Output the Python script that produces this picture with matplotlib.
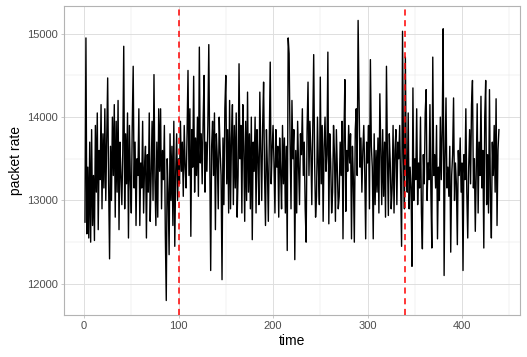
import numpy as np
import matplotlib
matplotlib.use("Agg")
import matplotlib.pyplot as plt
from matplotlib.ticker import MultipleLocator

# packet rate per time step
rate = [
    12740, 14950, 12600, 13400, 12550, 13700, 12500, 13850, 12700, 13300,
    12520, 13900, 13100, 14050, 12650, 13600, 13250, 14150, 12900, 13800,
    13150, 14100, 13000, 13750, 14470, 13200, 12300, 13650, 13000, 14000,
    13300, 14150, 12800, 13950, 13100, 14200, 12650, 13700, 13300, 12950,
    13600, 14850, 12900, 13800, 13200, 14050, 12550, 13900, 13250, 12850,
    13900, 14610, 13150, 13700, 12700, 13500, 13300, 14100, 12700, 13450,
    13150, 13950, 12850, 13400, 13650, 12550, 13550, 13100, 14050, 12750,
    13300, 13950, 13000, 14510, 13250, 12700, 13700, 12800, 14100, 13350,
    14100, 12900, 13600, 13250, 13900, 12600, 11800, 13500, 13100, 12350,
    13800, 13000, 13650, 12700, 13950, 12450, 13350, 13800, 13000, 13500,
    13200, 13950, 13350, 13700, 13050, 13900, 13400, 13150, 13800, 14560,
    13300, 14100, 12570, 13850, 13400, 14490, 13100, 13750, 13300, 14000,
    13050, 14840, 13450, 13800, 13200, 13950, 14500, 13100, 13700, 13350,
    13900, 14870, 13500, 12160, 13650, 13950, 13300, 14050, 12650, 13800,
    13500, 12900, 14000, 13600, 13300, 12050, 13750, 12950, 14100, 14500,
    13200, 13850, 12850, 14200, 12900, 13750, 14150, 12950, 13900, 13150,
    14050, 12800, 13300, 14640, 13500, 13900, 12850, 14150, 13650, 12750,
    13950, 13000, 14300, 13100, 13800, 12900, 14000, 12530, 13700, 13350,
    14000, 12850, 13850, 13500, 12950, 14300, 13600, 13000, 13900, 14420,
    13300, 12700, 13850, 13400, 12750, 13700, 14660, 13200, 13600, 13900,
    13450, 12850, 13850, 13400, 13650, 12800, 13750, 13350, 12900, 13900,
    13200, 13750, 12850, 13650, 12400, 14950, 14760, 13700, 12900, 14200,
    13500, 13850, 12290, 13600, 12850, 13950, 13400, 12950, 13800, 13550,
    14100, 13300, 13700, 12900, 12500, 13850, 14420, 13300, 13950, 13600,
    12950, 13900, 14750, 13450, 12800, 13050, 14000, 13400, 12950, 14480,
    13200, 13900, 12750, 13650, 14000, 13350, 13550, 14780, 12720, 13800,
    13450, 12850, 13100, 13900, 13550, 12750, 13850, 13400, 12900, 13050,
    13700, 13300, 13950, 12540, 13750, 14450, 12870, 13600, 13350, 13900,
    13450, 13800, 12540, 13650, 13250, 12500, 13850, 14100, 13300, 15160,
    14210, 13400, 13750, 13100, 13600, 13900, 13350, 12540, 13700, 13450,
    13900, 12900, 14690, 13650, 13400, 12540, 13800, 12950, 13600, 13100,
    13750, 12850, 14280, 13600, 12950, 13850, 13050, 13700, 12800, 14610,
    13550, 12820, 13800, 13450, 12900, 13150, 13900, 12850, 13600, 13850,
    12950, 13700, 13500, 13900, 13200, 12450, 15030, 13550, 12900, 14720,
    13350, 13100, 14050, 12900, 13400, 13150, 12210, 14350, 13000, 13500,
    13250, 14100, 12950, 13450, 13150, 14000, 12850, 12420, 13550, 13200,
    14050, 14330, 13000, 13450, 13250, 14150, 13100, 12430, 14720, 13300,
    13550, 13150, 13900, 12540, 13400, 13000, 14000, 13250, 13850, 15060,
    12100, 13500, 14230, 13150, 13400, 13050, 13650, 12380, 13300, 13550,
    14230, 13000, 13450, 13200, 12470, 13600, 13300, 13750, 13100, 13450,
    12160, 13550, 13250, 14100, 13100, 12550, 13400, 13850, 13200, 14150,
    14440, 13150, 13500, 12630, 13350, 14160, 12850, 13700, 13300, 14250,
    13150, 13600, 12430, 14000, 14440, 12950, 13550, 12850, 14330, 13050,
    12550, 13700, 13300, 13900, 13100, 14220, 12700, 13600, 13850,
]
time = np.arange(1, len(rate) + 1)
change_points = [100, 340]

fig = plt.figure(figsize=(5.27, 3.57), dpi=100)
ax = fig.add_axes([0.122, 0.119, 0.864, 0.863])

ax.plot(time, rate, color="black", lw=1.0, zorder=3)
for cp in change_points:
    ax.axvline(cp, color="#FF0000", lw=1.1, ls=(0, (4, 3)), zorder=4)

span = time.max() - time.min()
ax.set_xlim(time.min() - 0.05 * span, time.max() + 0.05 * span)
vspan = max(rate) - min(rate)
ax.set_ylim(min(rate) - 0.05 * vspan, max(rate) + 0.05 * vspan)

ax.xaxis.set_major_locator(MultipleLocator(100))
ax.xaxis.set_minor_locator(MultipleLocator(50))
ax.yaxis.set_major_locator(MultipleLocator(1000))
ax.yaxis.set_minor_locator(MultipleLocator(500))
ax.grid(which="major", color="#DEDEDE", lw=0.7)
ax.grid(which="minor", color="#E6E6E6", lw=0.35)
ax.set_axisbelow(True)

for s in ax.spines.values():
    s.set_color("#B3B3B3")
    s.set_linewidth(0.8)
ax.tick_params(which="major", length=2.5, width=0.5, color="#B3B3B3",
               labelsize=8, labelcolor="#4D4D4D", pad=2)
ax.tick_params(which="minor", length=0)

ax.set_xlabel("time", fontsize=10, family="Liberation Sans", labelpad=2)
ax.set_ylabel("packet rate", fontsize=10, family="Liberation Sans", labelpad=3)
for lab in ax.get_xticklabels() + ax.get_yticklabels():
    lab.set_family("Liberation Sans")

fig.savefig("out.png", dpi=100)
